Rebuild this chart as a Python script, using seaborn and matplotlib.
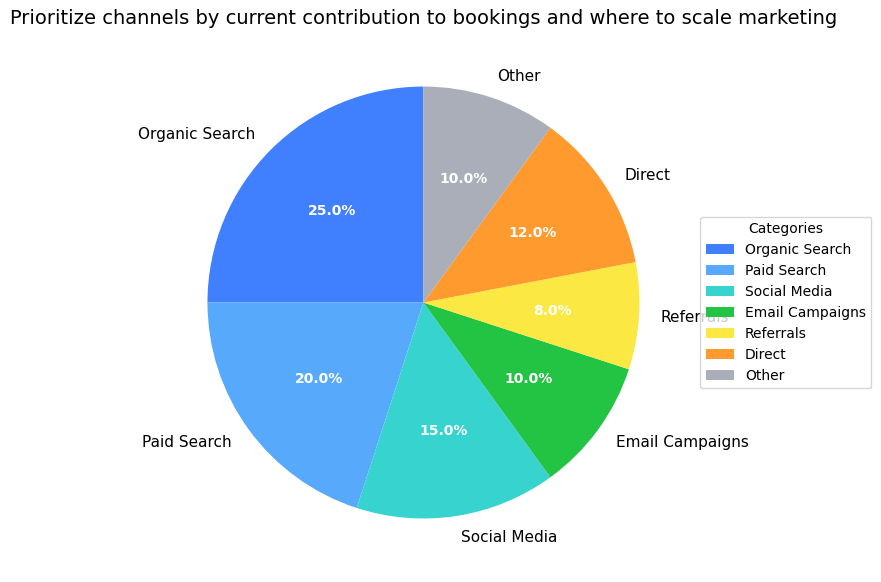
import matplotlib
matplotlib.use("Agg")
import matplotlib.pyplot as plt
import seaborn as sns

# =========================
# DATA
# =========================
channels = ["Organic Search", "Paid Search", "Social Media", "Email Campaigns",
            "Referrals", "Direct", "Other"]
shares = [25, 20, 15, 10, 8, 12, 10]
hex_colors = ["#4080FF", "#57A9FB", "#37D4CF", "#23C343",
              "#FBE842", "#FF9A2E", "#A9AEB8"]

colors = sns.color_palette(hex_colors)

# =========================
# PLOT
# =========================
fig = plt.figure(figsize=(8.81, 5.82), dpi=100)
ax = fig.add_axes([0.1742, 0.0163, 0.6129, 0.9278])

wedges, texts, autotexts = ax.pie(
    shares,
    labels=channels,
    colors=colors,
    autopct="%1.1f%%",
    startangle=90,
    textprops={"fontsize": 11},
)
for t in autotexts:
    t.set_color("white")
    t.set_fontweight("bold")
    t.set_fontsize(10)

ax.set_aspect("equal")
ax.set_title("Prioritize channels by current contribution to bookings and where to scale marketing",
             fontsize=14)
ax.legend(wedges, channels, title="Categories", loc="center left",
          bbox_to_anchor=(1, 0, 0.5, 1))

fig.savefig("out.png", dpi=100)
